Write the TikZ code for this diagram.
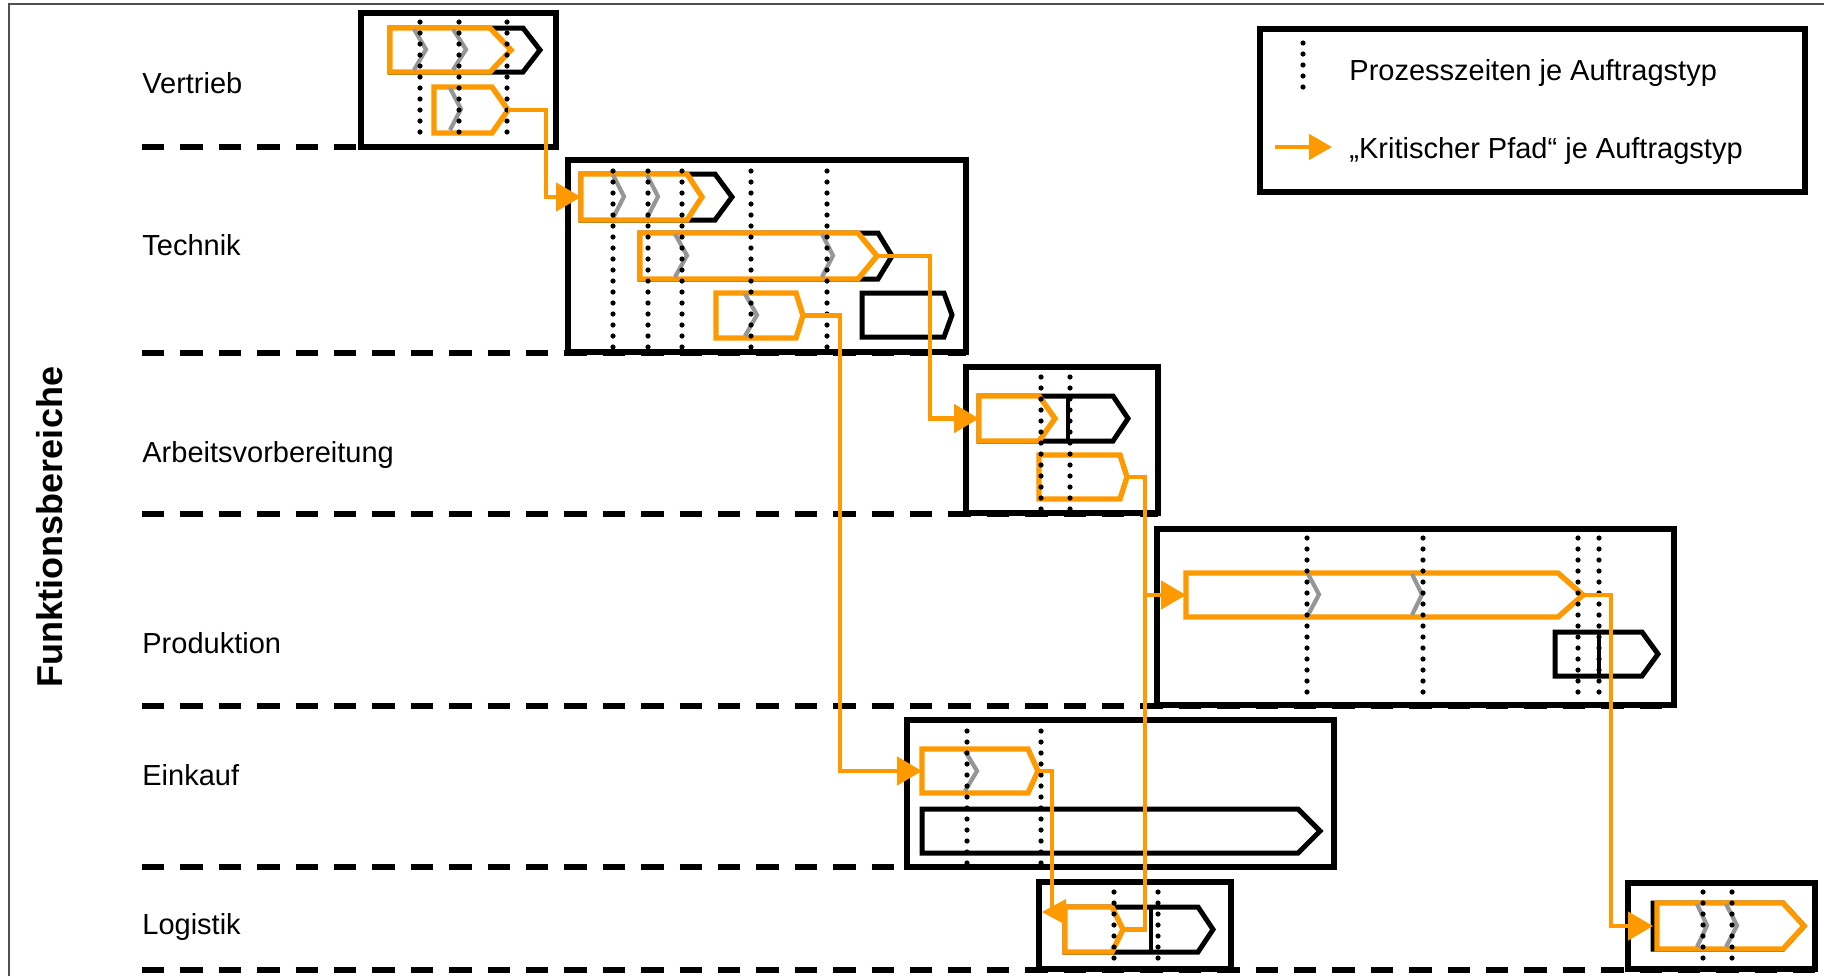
\documentclass[tikz,border=0pt]{standalone}
\usepackage{fontspec}
\setmainfont{Liberation Sans}
\usetikzlibrary{arrows.meta}
\definecolor{orng}{RGB}{255,153,0}
\definecolor{chevgray}{RGB}{150,150,150}
\definecolor{frm}{RGB}{80,80,80}
\newcommand\pentshape[7]{%
  \draw[#7] (#2,#4) -- ({#3-#6},#4) -- (#3,{(#4+#5)/2}) -- ({#3-#6},#5) -- (#2,#5) -- cycle;
  \coordinate (#1-w) at (#2,{(#4+#5)/2});
  \coordinate (#1-e) at (#3,{(#4+#5)/2});
}
\newcommand\chevron[4]{\draw[chevst] (#1,#2) -- ({#1+#4},{(#2+#3)/2}) -- (#1,#3);}
\newcommand\dotline[3]{\draw[dotst] (#1,#2) -- (#1,#3);}
\begin{document}
\begin{tikzpicture}[x=0.5pt,y=-0.5pt,
  lanedash/.style={line width=2.7pt, dash pattern=on 11.2pt off 8pt},
  area/.style={draw=black, line width=2.6pt},
  blackpent/.style={draw=black, line width=2.5pt, fill=white, line join=miter},
  orangepent/.style={draw=orng, line width=2.7pt, fill=white, line join=miter},
  sepline/.style={draw=black, line width=2.4pt},
  chevst/.style={draw=chevgray, line width=2.1pt},
  dotst/.style={draw=black, line width=2.6pt, line cap=round, dash pattern=on 0pt off 5.5pt},
  conn/.style={draw=orng, line width=2.4pt},
  tipped/.style={conn, -{Triangle[length=12.5pt,width=14pt]}},
  lbl/.style={anchor=base west, inner sep=0pt, font=\fontsize{14.5}{17}\selectfont},
]
\useasboundingbox (0,0) rectangle (1824,976);
% outer frame
\draw[frm, line width=0.9pt] (9,976) -- (9,4) -- (1824,4);

% lane separators
\draw[lanedash] (142,147) -- (556,147);
\draw[lanedash] (142,353) -- (966,353);
\draw[lanedash] (142,514) -- (1158,514);
\draw[lanedash] (142,706) -- (1674,706);
\draw[lanedash] (142,867) -- (1334,867);
\draw[lanedash] (142,970) -- (1815,970);

% area boxes
\draw[area] (361,13) rectangle (556,147);
\draw[area] (568,160) rectangle (966,352);
\draw[area] (966,367) rectangle (1158,513);
\draw[area] (1157,529) rectangle (1674,705);
\draw[area] (907,720) rectangle (1334,867);
\draw[area] (1039,882) rectangle (1231,969);
\draw[area] (1628,883) rectangle (1815,969);

% black pentagons
\pentshape{Vb1}{390}{540}{28}{72}{17}{blackpent}
\pentshape{Tb1}{581}{732}{174}{220}{17}{blackpent}
\pentshape{Tb2}{640}{892}{233}{279}{14}{blackpent}
\pentshape{Tb3}{862}{952}{293}{337}{8}{blackpent}
\pentshape{Ab1}{979}{1128}{396}{441}{15}{blackpent}
\draw[sepline] (1068,396) -- (1068,441);
\pentshape{Pb2}{1555}{1658}{632}{676}{16}{blackpent}
\draw[sepline] (1599,632) -- (1599,676);
\pentshape{Eb2}{922}{1320}{809}{853}{22}{blackpent}
\pentshape{Lb1}{1065}{1213}{907}{952}{15}{blackpent}
\draw[sepline] (1151,907) -- (1151,952);
\pentshape{Lb2}{1653}{1804}{903}{949}{21}{blackpent}

% orange pentagons (critical path)
\pentshape{V1}{390}{511}{28}{72}{21}{orangepent}
\pentshape{V2}{434}{508}{87}{133}{16}{orangepent}
\pentshape{T1}{581}{702}{174}{220}{15}{orangepent}
\pentshape{T2}{640}{877}{233}{279}{19}{orangepent}
\pentshape{T3}{716}{803}{293}{338}{7}{orangepent}
\pentshape{A1}{979}{1055}{396}{441}{16}{orangepent}
\pentshape{A2}{1039}{1127}{455}{499}{7}{orangepent}
\pentshape{P1}{1186}{1583}{573}{617}{25}{orangepent}
\pentshape{E1}{922}{1038}{749}{793}{10}{orangepent}
\pentshape{L1}{1065}{1123}{907}{952}{11}{orangepent}
\pentshape{L2}{1657}{1804}{903}{949}{21}{orangepent}

% grey chevrons
\chevron{414}{29}{70}{12}
\chevron{453}{29}{70}{13}
\chevron{450}{88}{130}{11}
\chevron{613}{175}{218}{11}
\chevron{647}{175}{218}{11}
\chevron{675}{234}{277}{12}
\chevron{822}{234}{277}{11}
\chevron{745}{294}{336}{12}
\chevron{965}{751}{791}{12}
\chevron{1308}{574}{615}{11}
\chevron{1412}{574}{615}{10}
\chevron{1697}{904}{947}{10}
\chevron{1726}{904}{947}{11}

% process time dotted lines
\dotline{420}{22}{135}
\dotline{459}{22}{135}
\dotline{507}{22}{135}
\dotline{613}{171}{348}
\dotline{648}{171}{348}
\dotline{682}{171}{348}
\dotline{751}{171}{348}
\dotline{827}{171}{348}
\dotline{1041}{377}{510}
\dotline{1070}{377}{510}
\dotline{1307}{538}{693}
\dotline{1423}{538}{693}
\dotline{1578}{538}{693}
\dotline{1599}{538}{693}
\dotline{967}{731}{863}
\dotline{1041}{731}{863}
\dotline{1114}{892}{958}
\dotline{1158}{892}{958}
\dotline{1703}{892}{958}
\dotline{1732}{892}{958}

% critical path connectors
\coordinate (k1) at (546,197);
\draw[tipped] (V2-e) -| (k1) -- (T1-w);
\coordinate (k2) at (930,418.5);
\draw[tipped] (T2-e) -| (k2) -- (A1-w);
\coordinate (k3) at (840,771);
\draw[tipped] (T3-e) -| (k3) -- (E1-w);
\coordinate (k4) at (1145,929.5);
\draw[conn] (A2-e) -| (k4) -- (L1-e);
\coordinate (k5) at (1145,595);
\draw[tipped] (k5) -- (P1-w);
\coordinate (k6) at (1052,912);
\draw[conn] (E1-e) -| (k6);
\coordinate (k6tip) at (1042,912);
\fill[orng] (k6tip) -- (1066,899) -- (1066,925) -- cycle;
\coordinate (k7) at (1611,926);
\draw[tipped] (P1-e) -| (k7) -- (Lb2-w);

% legend
\draw[area] (1260,29) rectangle (1805,192);
\dotline{1303}{43}{87}
\coordinate (lg1) at (1275,147);
\coordinate (lg2) at (1332,147);
\draw[conn, -{Triangle[length=11.5pt,width=12.5pt]}] (lg1) -- (lg2);
\node[lbl] (leg1) at (1349,80) {Prozesszeiten je Auftragstyp};
\node[lbl] (leg2) at (1349,158) {„Kritischer Pfad“ je Auftragstyp};

% lane labels
\node[lbl] (vertrieb) at (142,93) {Vertrieb};
\node[lbl] (technik) at (142,255) {Technik};
\node[lbl] (av) at (142,462) {Arbeitsvorbereitung};
\node[lbl] (produktion) at (142,653) {Produktion};
\node[lbl] (einkauf) at (142,785) {Einkauf};
\node[lbl] (logistik) at (142,934) {Logistik};
\node[rotate=90, anchor=base, inner sep=0pt, font=\fontsize{18}{21}\selectfont\bfseries] (title) at (62,527) {Funktionsbereiche};
\end{tikzpicture}
\end{document}
